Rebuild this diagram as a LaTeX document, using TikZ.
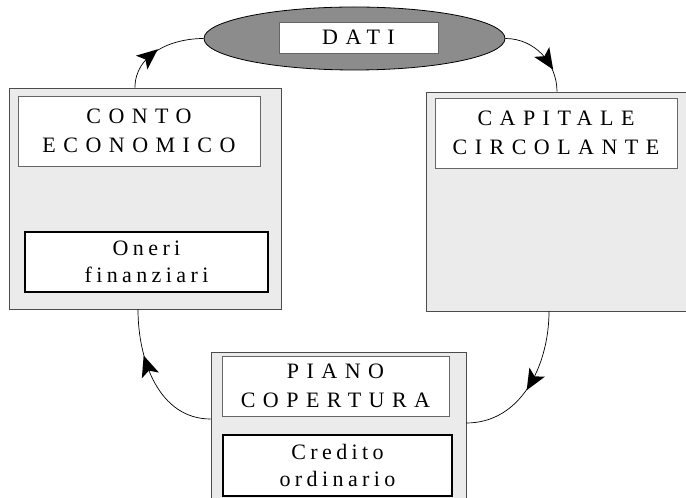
\documentclass[tikz,border=0pt]{standalone}
\usepackage{fontspec}
\setmainfont{Liberation Serif}
\newfontfamily\capsfont[LetterSpace=34]{Liberation Serif}
\newfontfamily\lowfont[LetterSpace=20]{Liberation Serif}
\usetikzlibrary{shapes.geometric,decorations.markings}

\begin{document}
\begin{tikzpicture}[x=1pt,y=1pt,
  outerbox/.style={rectangle, draw=black!70, line width=0.8pt, fill=black!8, inner sep=0pt},
  titlebox/.style={rectangle, draw=black!60, line width=0.8pt, fill=white, inner sep=0pt, align=center, font={\capsfont\fontsize{22}{28.5}\selectfont}},
  itembox/.style={rectangle, draw=black, line width=2pt, fill=white, inner sep=0pt, align=center, font={\lowfont\fontsize{22}{27}\selectfont}},
  cloud/.style={ellipse, draw=black, line width=0.8pt, fill=black!45, inner sep=0pt},
  flow/.style={draw=black, line width=0.7pt, postaction=decorate},
  tip at/.style={decoration={markings, mark=at position #1 with {\fill[black] (9pt,0pt) -- (-12pt,9pt) -- (-7pt,0pt) -- (-12pt,-9pt) -- cycle;}}}
]
\useasboundingbox (0,0) rectangle (686,498);
\clip (0,0) rectangle (686,498);

% top data ellipse
\node[cloud, minimum width=301pt, minimum height=63pt] (dati) at (354.5,459.5) {};
\node[titlebox, minimum width=159pt, minimum height=31pt] (datilbl) at (358.5,460.5) {DATI};

% left block
\node[outerbox, minimum width=272pt, minimum height=221pt] (ce) at (145,299.5) {};
\node[titlebox, minimum width=242pt, minimum height=70pt] (cetitle) at (139,367) {CONTO\\ECONOMICO};
\node[itembox, minimum width=243pt, minimum height=60pt] (oneri) at (146.5,236) {Oneri\\finanziari};

% right block
\node[outerbox, minimum width=274pt, minimum height=219pt] (cc) at (563,296.5) {};
\node[titlebox, minimum width=242pt, minimum height=70pt] (cctitle) at (556,365) {CAPITALE\\CIRCOLANTE};

% bottom block
\node[outerbox, minimum width=255pt, minimum height=168pt] (pc) at (338.5,62) {};
\node[titlebox, minimum width=227pt, minimum height=60pt] (pctitle) at (335.5,112) {PIANO\\COPERTURA};
\node[itembox, minimum width=229pt, minimum height=61pt] (cred) at (337.5,32.5) {Credito\\ordinario};

% connectors
\draw[flow, tip at=0.4] ([xshift=-10pt]ce.north) to[out=90,in=180] (dati.west);
\draw[flow, tip at=0.62] (dati.east) to[out=0,in=90] ([xshift=-6pt]cc.north);
\draw[flow, tip at=0.48] ([xshift=-14pt]cc.south) to[out=-90,in=0] ([yshift=13pt]pc.east);
\draw[flow, tip at=0.62] ([yshift=17pt]pc.west) to[out=180,in=-90] ([xshift=-7pt]ce.south);
\end{tikzpicture}
\end{document}
